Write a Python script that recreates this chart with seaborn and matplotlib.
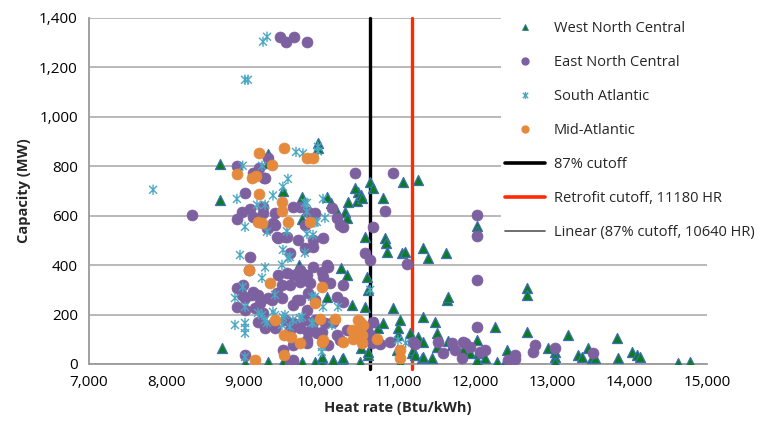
import pandas as pd
import numpy as np
import matplotlib
matplotlib.use('Agg')
import matplotlib.pyplot as plt
import seaborn as sns
from matplotlib.lines import Line2D
from matplotlib.path import Path
from matplotlib.ticker import FuncFormatter

# Heat rate (Btu/kWh) and capacity (MW)
wnc_hr = [8700, 8700, 8720, 9020, 9320, 9320, 9320, 9510, 9510, 9760, 9760, 9720, 9760, 9925,
          9960, 9960, 10020, 10020, 10020, 10080, 10130, 10210, 10310, 10340, 10350, 10470,
          10480, 10520, 10530, 10440, 10640, 10680, 10570, 10260, 10340, 10080, 10400, 10570,
          10160, 10275, 10510, 10520, 10610, 10610, 10610, 10600, 10290, 10700, 10740, 10806,
          10810, 10830, 10850, 10855, 10935, 10990, 11000, 11000, 11030, 11030, 11050, 11090,
          11065, 11155, 11180, 11190, 11220, 11260, 11260, 11310, 11320, 11320, 11320, 11320,
          11390, 11440, 11480, 11500, 11500, 11620, 11630, 11650, 11650, 11700, 11840, 11930,
          12020, 12020, 12020, 12020, 12035, 12125, 12255, 12280, 12385, 12410, 12670, 12670,
          12670, 12940, 13030, 13030, 13030, 13200, 13330, 13380, 13460, 13510, 13550, 13835,
          13850, 14030, 14090, 14130, 14620, 14780]
wnc_mw = [810, 665, 65, 5, 850, 815, 8, 700, 8, 677, 588, 400, 8, 8,
          895, 875, 16, 4, 30, 677, 652, 615, 615, 590, 656, 660,
          697, 684, 672, 713, 737, 713, 514, 390, 362, 272, 239, 231,
          18, 20, 8, 65, 36, 49, 300, 352, 24, 170, 146, 166,
          670, 510, 490, 454, 227, 57, 117, 146, 178, 4, 450, 454,
          737, 125, 45, 57, 36, 745, 109, 24, 470, 190, 89, 28,
          430, 24, 170, 125, 69, 450, 260, 272, 92, 77, 57, 45,
          560, 540, 97, 16, 45, 24, 148, 8, 8, 57, 308, 280,
          130, 65, 49, 28, 8, 117, 36, 28, 65, 24, 24, 105,
          24, 49, 36, 28, 4, 8]

enc_hr = [9472, 9550, 9654, 9822, 8915, 9200, 9317, 9123, 9265, 9020, 8330, 8915, 8985, 9085,
          9123, 9253, 9382, 9317, 9434, 9537, 9640, 9730, 9835, 9925, 9705, 9795, 9900, 9085,
          9070, 9447, 9563, 9640, 9730, 9822, 9900, 8915, 8980, 9020, 9110, 8915, 9020, 9214,
          9369, 9434, 9498, 9640, 9730, 9835, 9822, 9925, 9150, 9253, 9280, 9382, 9537, 9640,
          9730, 9600, 9835, 9925, 9822, 9511, 9640, 9020, 8990, 9123, 9280, 9253, 9408, 10145,
          10210, 10250, 10290, 10680, 9408, 9305, 9447, 9563, 9900, 10030, 10440, 9795, 9600,
          10570, 10640, 9757, 10015, 10080, 9498, 9600, 9730, 9860, 10030, 10120, 10290, 9188,
          9317, 9690, 10210, 9188, 9280, 9408, 9795, 9887, 10055, 10160, 10015, 10210, 10340,
          10250, 10600, 10680, 10640, 9640, 9640, 10095, 10935, 10830, 11115, 12020, 12020,
          12020, 10095, 10290, 12020, 10895, 10770, 10660, 11195, 11220, 11520, 11580, 11700,
          11740, 11840, 11870, 11830, 11930, 12060, 12125, 12425, 12515, 12520, 12770, 12750,
          13030, 13520, 9822, 9950, 9600]
enc_mw = [1324, 1304, 1324, 1304, 802, 794, 834, 773, 753, 693, 603, 587, 613, 628,
          595, 611, 571, 551, 514, 514, 636, 634, 616, 611, 502, 470, 474, 433,
          381, 360, 368, 360, 381, 360, 393, 308, 280, 267, 280, 231, 219, 247,
          259, 288, 267, 239, 259, 288, 219, 259, 227, 207, 146, 158, 178, 166,
          146, 138, 130, 178, 97, 55, 8, 36, 320, 290, 753, 636, 611, 632,
          591, 563, 555, 555, 563, 551, 510, 514, 502, 510, 773, 563, 450,
          450, 421, 368, 372, 401, 320, 320, 332, 328, 352, 328, 320, 280,
          267, 259, 272, 170, 158, 146, 178, 150, 166, 170, 130, 117, 138,
          97, 138, 170, 117, 77, 16, 77, 773, 620, 403, 603, 516,
          340, 393, 251, 150, 87, 79, 85, 89, 80, 89, 45, 85,
          57, 89, 85, 24, 69, 50, 57, 16, 36, 20, 77, 49,
          65, 45, 85, 125, 5]

sa_hr = [9253, 9305, 9020, 9058, 7830, 8990, 9240, 8915, 9382, 9510, 9576, 9680, 9770, 9964,
         9964, 9175, 9280, 9020, 9822, 9305, 9563, 9822, 9925, 8955, 9511, 9600, 9795, 9576,
         9498, 9280, 9240, 9408, 8890, 8990, 9020, 9188, 9280, 9382, 9511, 9640, 9730, 9887,
         9900, 8890, 9020, 9020, 9020, 9020, 9600, 9820, 10055, 10030, 9950, 9900, 9925, 10030,
         10223, 10640, 9240, 9408, 9537, 9757, 9305, 9498, 9887, 10145, 10015, 10015, 11100,
         11000, 9795]
sa_mw = [1304, 1324, 1150, 1150, 705, 802, 802, 668, 682, 717, 749, 858, 852, 879,
         860, 644, 644, 555, 652, 535, 537, 526, 573, 441, 462, 433, 450, 429,
         401, 391, 348, 280, 267, 312, 231, 207, 178, 211, 190, 178, 186, 272,
         166, 158, 166, 146, 125, 28, 150, 616, 591, 668, 575, 522, 272, 231,
         231, 300, 198, 198, 198, 190, 166, 158, 166, 158, 69, 49, 85,
         97, 652]

ma_hr = [9520, 9200, 9370, 8915, 9110, 9160, 9200, 9822, 9900, 9498, 9498, 9188, 9240, 9576,
         9860, 9078, 9350, 9925, 9414, 9520, 9620, 9730, 9520, 9150, 10015, 9990, 10185, 10480,
         10545, 10400, 10470, 10530, 10015, 10290, 10420, 10530, 10510, 10730, 10030, 11030,
         11030]
ma_mw = [873, 852, 804, 769, 753, 761, 686, 834, 834, 654, 620, 575, 571, 573,
         573, 381, 328, 247, 178, 117, 109, 85, 36, 16, 310, 182, 182, 178,
         158, 138, 130, 117, 89, 87, 101, 85, 170, 101, 97, 55,
         26]

cutoff_87 = 10640
retrofit_cutoff = 11180

x_ticks = [7000, 8000, 9000, 10000, 11000, 12000, 13000, 14000, 15000]
y_ticks = [0, 200, 400, 600, 800, 1000, 1200, 1400]

regions = ['West North Central', 'East North Central', 'South Atlantic', 'Mid-Atlantic']
df = pd.concat([
    pd.DataFrame({'hr': wnc_hr, 'mw': wnc_mw, 'region': regions[0]}),
    pd.DataFrame({'hr': enc_hr, 'mw': enc_mw, 'region': regions[1]}),
    pd.DataFrame({'hr': sa_hr, 'mw': sa_mw, 'region': regions[2]}),
    pd.DataFrame({'hr': ma_hr, 'mw': ma_mw, 'region': regions[3]}),
])

sns.set_style('white')
plt.rcParams['font.family'] = ['Open Sans', 'DejaVu Sans']

green = '#0b7d1e'
blue_edge = '#3d6fb5'
purple = '#7d60a0'
teal = '#4aa8c3'
orange = '#e58a3c'

# Excel-style star marker: x plus vertical bar
star = Path([(-1, -1), (1, 1), (-1, 1), (1, -1), (0, -1.3), (0, 1.3)],
            [Path.MOVETO, Path.LINETO, Path.MOVETO, Path.LINETO, Path.MOVETO, Path.LINETO])

fig = plt.figure(figsize=(7.65, 4.21), dpi=100)
ax = fig.add_axes([0.1163, 0.1354, 0.8078, 0.8219])

ax.plot([cutoff_87, cutoff_87], [-22, 1400], color='black', lw=2.4, zorder=1.5, clip_on=False)
ax.plot([retrofit_cutoff, retrofit_cutoff], [-22, 1400], color='#ff2a00', lw=2.4, zorder=1.5, clip_on=False)

sns.scatterplot(data=df[df.region == regions[0]], x='hr', y='mw', ax=ax, marker='^', s=52,
                color=green, edgecolor=blue_edge, linewidth=0.9, legend=False, zorder=3)
sns.scatterplot(data=df[df.region == regions[1]], x='hr', y='mw', ax=ax, marker='o', s=62,
                color=purple, edgecolor=purple, linewidth=0.5, legend=False, zorder=3)
sns.scatterplot(data=df[df.region == regions[2]], x='hr', y='mw', ax=ax, marker=star, s=55,
                facecolor='none', edgecolor=teal, linewidth=1.0, legend=False, zorder=3)
sns.scatterplot(data=df[df.region == regions[3]], x='hr', y='mw', ax=ax, marker='o', s=62,
                color=orange, edgecolor=orange, linewidth=0.5, legend=False, zorder=3)

ax.set_xlim(7000, 15000)
ax.set_ylim(0, 1400)
ax.set_xticks(x_ticks)
ax.set_yticks(y_ticks)
fmt = FuncFormatter(lambda v, p: f'{v:,.0f}')
ax.xaxis.set_major_formatter(fmt)
ax.yaxis.set_major_formatter(fmt)
ax.tick_params(axis='both', labelsize=11, direction='out', length=5, width=1.2, colors='#9a9a9a',
               labelcolor='black', pad=3)
ax.yaxis.grid(True, color='#b3b3b3', lw=1.3)
ax.set_axisbelow(True)
for s in ['top', 'right']:
    ax.spines[s].set_visible(False)
for s in ['left', 'bottom']:
    ax.spines[s].set_color('#9a9a9a')
    ax.spines[s].set_linewidth(1.3)

ax.set_xlabel('Heat rate (Btu/kWh)', fontsize=10.5, fontweight='bold', labelpad=8)
ax.set_ylabel('Capacity (MW)', fontsize=10.5, fontweight='bold', labelpad=6)

handles = [
    Line2D([], [], ls='none', marker='^', ms=5, color=green, mec=blue_edge, mew=0.6),
    Line2D([], [], ls='none', marker='o', ms=5, color=purple, mec=purple),
    Line2D([], [], ls='none', marker=star, ms=5, mfc='none', mec=teal, mew=1.0),
    Line2D([], [], ls='none', marker='o', ms=5, color=orange, mec=orange),
    Line2D([], [], color='black', lw=2.6),
    Line2D([], [], color='#ff2a00', lw=2.6),
    Line2D([], [], color='#555555', lw=1.2),
]
labels = regions + ['87% cutoff', 'Retrofit cutoff, 11180 HR', 'Linear (87% cutoff, 10640 HR)']
leg = ax.legend(handles, labels, loc='upper left', bbox_to_anchor=(0.655, 1.025), fontsize=10.5,
                frameon=True, fancybox=False, edgecolor='none', framealpha=1, facecolor='white',
                handlelength=2.7, handletextpad=0.6, labelspacing=1.3, borderpad=0.3)

fig.savefig('out.png', dpi=100)
